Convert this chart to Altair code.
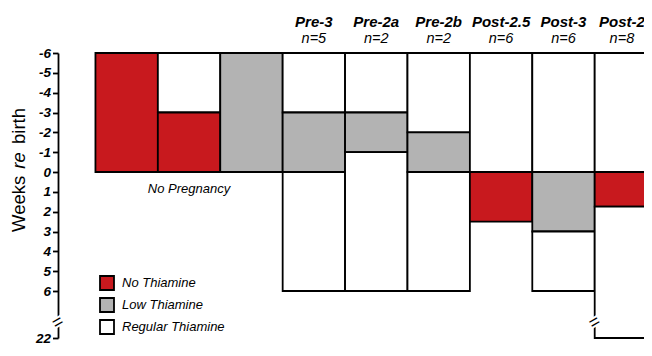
import altair as alt
import pandas as pd

# ---------------- data ----------------
diets = ["No Thiamine", "Low Thiamine", "Regular Thiamine"]
diet_colors = ["#c8191e", "#b3b3b3", "#ffffff"]

seg_col = [0, 1, 1, 2, 3, 3, 3, 4, 4, 4, 5, 5, 5, 6, 6, 7, 7, 7, 8, 8, 8]
seg_start = [-6, -6, -3, -6, -6, -3, 0, -6, -3, -1, -6, -2, 0, -6, 0, -6, 0, 3, -6, 0, 1.75]
seg_end = [0, -3, 0, 0, -3, 0, 6, -3, -1, 6, -2, 0, 6, 0, 2.5, 0, 3, 6, 0, 1.75, 22]
seg_diet = [
    "No Thiamine",
    "Regular Thiamine", "No Thiamine",
    "Low Thiamine",
    "Regular Thiamine", "Low Thiamine", "Regular Thiamine",
    "Regular Thiamine", "Low Thiamine", "Regular Thiamine",
    "Regular Thiamine", "Low Thiamine", "Regular Thiamine",
    "Regular Thiamine", "No Thiamine",
    "Regular Thiamine", "Low Thiamine", "Regular Thiamine",
    "Regular Thiamine", "No Thiamine", "Regular Thiamine",
]

header_col = [3, 4, 5, 6, 7, 8]
header_name = ["Pre-3", "Pre-2a", "Pre-2b", "Post-2.5", "Post-3", "Post-2"]
header_n = ["n=5", "n=2", "n=2", "n=6", "n=6", "n=8"]

group_label = ["No Pregnancy"]
group_first_col = [0]
group_last_col = [2]

y_ticks = [-6, -5, -4, -3, -2, -1, 0, 1, 2, 3, 4, 5, 6, 22]
y_break_domain = [-6, 6, 22]
break_week = 16.8

x_domain = [-0.6, 8.79]
break_x = [x_domain[0], 8]

FONT = "Liberation Sans"

# ---------------- scales / axes ----------------
xscale = alt.Scale(domain=x_domain, nice=False, zero=False, padding=0)
yscale = alt.Scale(domain=y_break_domain, range=[0, 238, 285], nice=False, zero=False)
yaxis = alt.Axis(
    values=y_ticks,
    labelExpr="toString(datum.value)",
    domainColor="black", domainWidth=1.8,
    tickColor="black", tickWidth=1.8, tickSize=5.5,
    labelFont=FONT, labelFontStyle="italic", labelFontWeight="bold",
    labelFontSize=13.5, labelColor="black", labelPadding=2,
    labelOverlap=False, grid=False, title=None,
)

segs = pd.DataFrame({"col": seg_col, "start": seg_start, "end": seg_end, "diet": seg_diet})

rects = alt.Chart(segs).transform_calculate(
    col2="datum.col + 1"
).mark_rect(stroke="black", strokeWidth=1.8).encode(
    x=alt.X("col:Q", scale=xscale, axis=None),
    x2="col2:Q",
    y=alt.Y("start:Q", scale=yscale, axis=yaxis),
    y2="end:Q",
    fill=alt.Fill(
        "diet:N",
        scale=alt.Scale(domain=diets, range=diet_colors),
        legend=alt.Legend(
            orient="none", legendX=41, legendY=222, title=None,
            symbolType="square", symbolSize=196,
            symbolStrokeColor="black", symbolStrokeWidth=1.8,
            labelFont=FONT, labelFontStyle="italic", labelFontSize=13,
            labelColor="black", rowPadding=0, labelOffset=7, padding=0,
        ),
    ),
)

brk = pd.DataFrame({"x": break_x, "y": [break_week] * len(break_x)})
brk_white = alt.Chart(brk).mark_text(
    text="=", font=FONT, fontSize=18, angle=330, baseline="middle",
    fill="white", stroke="white", strokeWidth=4,
).encode(x=alt.X("x:Q", scale=xscale, axis=None), y=alt.Y("y:Q", scale=yscale, axis=yaxis))
brk_black = alt.Chart(brk).mark_text(
    text="=", font=FONT, fontSize=18, angle=330, baseline="middle", fill="black",
).encode(x=alt.X("x:Q", scale=xscale, axis=None), y=alt.Y("y:Q", scale=yscale, axis=yaxis))

hdr = pd.DataFrame({"col": header_col, "name": header_name, "n": header_n})
hdr_main = hdr[hdr["col"] < 8]
hdr_last = hdr[hdr["col"] == 8]


def header_layers(df, dx):
    names = alt.Chart(df).transform_calculate(center="datum.col + 0.5").mark_text(
        font=FONT, fontStyle="italic", fontWeight="bold", fontSize=15,
        baseline="alphabetic", color="black", dx=dx,
    ).encode(x=alt.X("center:Q", scale=xscale, axis=None), y=alt.value(-26), text="name:N")
    ns = alt.Chart(df).transform_calculate(center="datum.col + 0.5").mark_text(
        font=FONT, fontStyle="italic", fontSize=14.5, baseline="alphabetic",
        color="black", dx=dx,
    ).encode(x=alt.X("center:Q", scale=xscale, axis=None), y=alt.value(-10), text="n:N")
    return [names, ns]


grp = pd.DataFrame({"label": group_label, "a": group_first_col, "b": group_last_col, "y": [0]})
grp_text = alt.Chart(grp).transform_calculate(center="(datum.a + datum.b + 1) / 2").mark_text(
    font=FONT, fontStyle="italic", fontSize=13, baseline="alphabetic", dy=21, color="black",
).encode(x=alt.X("center:Q", scale=xscale, axis=None),
         y=alt.Y("y:Q", scale=yscale, axis=yaxis), text="label:N")


def title_part(txt, ypix, style, align):
    return alt.Chart(pd.DataFrame({"t": [txt]})).mark_text(
        font=FONT, fontSize=18.5, fontStyle=style, angle=270, align=align,
        baseline="alphabetic", color="black",
    ).encode(x=alt.value(-33), y=alt.value(ypix), text="t:N")


t1 = title_part("Weeks", 179, "normal", "left")
t2 = title_part("re", 107.5, "italic", "center")
t3 = title_part("birth", 55, "normal", "right")

chart = alt.layer(
    rects, brk_white, brk_black,
    *header_layers(hdr_main, 0), *header_layers(hdr_last, -4),
    grp_text, t1, t2, t3,
).properties(
    width=586, height=292,
    autosize=alt.AutoSizeParams(type="none"),
    padding={"left": 50, "top": 45, "right": 0, "bottom": 0},
).configure_view(stroke=None)

chart.save("out.html", embed_options={"renderer": "svg", "actions": False})
